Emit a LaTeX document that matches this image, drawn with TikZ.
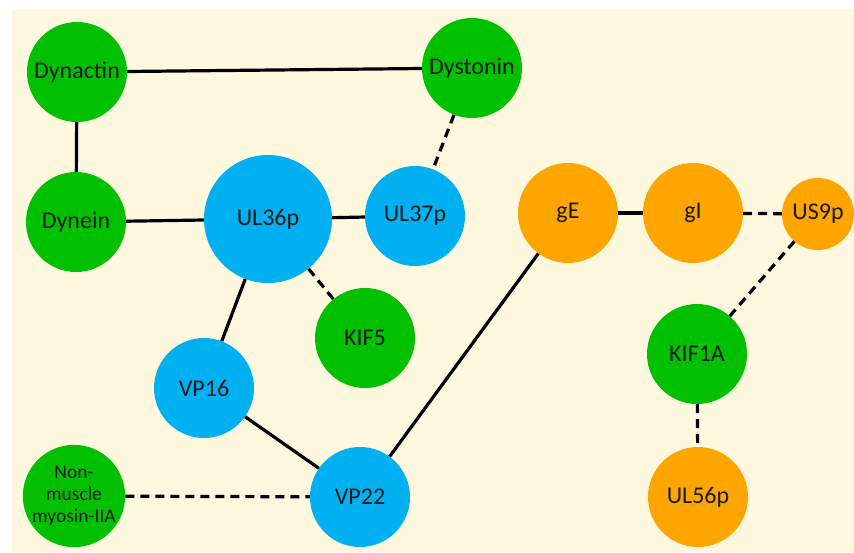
\documentclass[tikz,border=0pt]{standalone}
\usepackage{fontspec}
\setmainfont{Carlito}
\usetikzlibrary{positioning}

\definecolor{paper}{RGB}{253,248,222}
\definecolor{hostgreen}{RGB}{0,192,0}
\definecolor{tegblue}{RGB}{0,176,240}
\definecolor{glyorange}{RGB}{255,165,0}

\begin{document}
\begin{tikzpicture}[x=1pt, y=-1pt,
      prot/.style={circle, inner sep=0pt, minimum size=100pt,
                   font=\fontsize{24}{26}\selectfont, text=black!90},
      host/.style={prot, fill=hostgreen},
      teg/.style={prot, fill=tegblue},
      gly/.style={prot, fill=glyorange},
      link/.style={line width=3.2pt, black},
      weak/.style={link, dash pattern=on 9pt off 6pt},
   ]
   % Canvas
   \useasboundingbox (0,0) rectangle (854,552);
   \fill[paper] (12,9) rectangle (854,552);

   % Protein circles
   \foreach \n/\x/\y/\sty/\lab in {
         dynactin/77/72/host/Dynactin,
         dystonin/472/68/host/Dystonin,
         dynein/76/222/host/Dynein,
         ulb/415/216/teg/UL37p,
         kifv/365/338/host/KIF5,
         vpa/204/388/teg/VP16,
         vpb/360/497/teg/VP22,
         ge/568/213/gly/gE,
         gi/693/213/gly/gI,
         kifa/697/354/host/KIF1A,
         ulc/698/497/gly/UL56p}{
      \node[\sty] (\n) at (\x,\y) {\lab};
   }
   \node[teg, minimum size=128pt] (ula) at (268,219) {UL36p};
   \node[gly, minimum size=72pt] (usn) at (818,214) {US9p};
   \node[host, align=center, font=\fontsize{19.5}{22}\selectfont] (myo) at (74,496)
      {Non-\\muscle\\myosin-IIA};

   % Interactions
   \foreach \a/\b in {dynactin/dystonin, dynactin/dynein, dynein/ula, ula/ulb,
                      ula/vpa, vpa/vpb, vpb/ge, ge/gi}
      \draw[link] (\a) -- (\b);
   \foreach \a/\b in {dystonin/ulb, ula/kifv, myo/vpb, gi/usn, usn/kifa, kifa/ulc}
      \draw[weak] (\a) -- (\b);
\end{tikzpicture}
\end{document}
